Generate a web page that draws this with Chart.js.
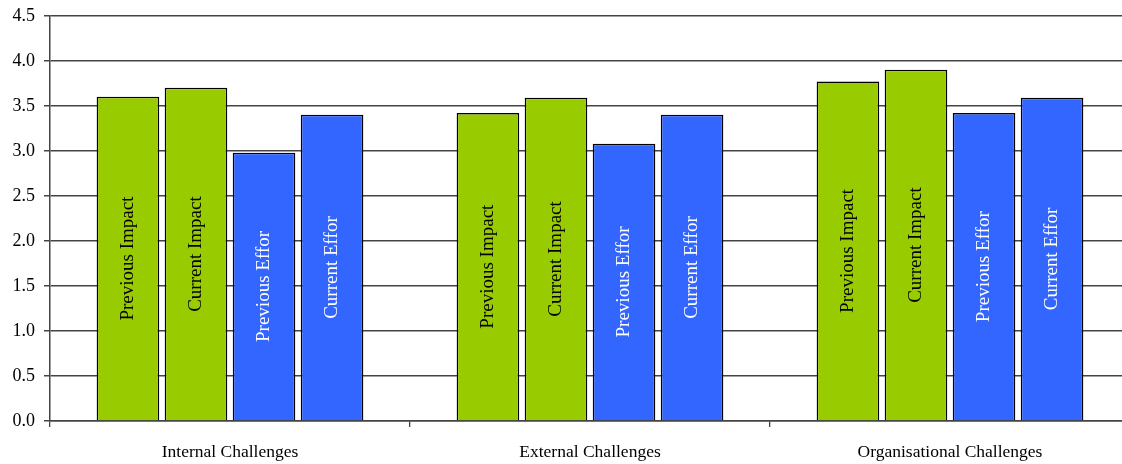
<!DOCTYPE html>
<html>
<head>
<meta charset="utf-8">
<script src="https://cdn.jsdelivr.net/npm/chart.js@4"></script>
<style>
html,body{margin:0;padding:0;background:#fff;overflow:hidden;width:1122px;height:464px;}
canvas{display:block;margin-top:-4px;}
</style>
</head>
<body>
<canvas id="c" width="1132" height="468"></canvas>
<script>
const categories = ["Internal Challenges", "External Challenges", "Organisational Challenges"];
const seriesNames = ["Previous Impact", "Current Impact", "Previous Effort", "Current Effort"];
const barLabels = ["Previous Impact", "Current Impact", "Previous Effor", "Current Effor"];
const previousImpact = [3.60, 3.42, 3.77];
const currentImpact = [3.70, 3.59, 3.90];
const previousEffort = [2.98, 3.08, 3.42];
const currentEffort = [3.40, 3.40, 3.59];
const yTicks = [0, 0.5, 1, 1.5, 2, 2.5, 3, 3.5, 4, 4.5];

const GREEN = '#99CC00', BLUE = '#3366FF';
const fills = [GREEN, GREEN, BLUE, BLUE];
const textColors = ['#000', '#000', '#fff', '#fff'];
const values = [previousImpact, currentImpact, previousEffort, currentEffort];
const SERIF = '"Liberation Serif", "Times New Roman", serif';

const barTextPlugin = {
  id: 'barText',
  afterDatasetsDraw(chart) {
    const ctx = chart.ctx;
    chart.data.datasets.forEach((ds, i) => {
      const meta = chart.getDatasetMeta(i);
      meta.data.forEach(bar => {
        const p = bar.getProps(['x', 'y', 'base'], true);
        const cy = (p.y + p.base) / 2;
        ctx.save();
        ctx.translate(p.x, cy);
        ctx.rotate(-Math.PI / 2);
        ctx.font = '19px ' + SERIF;
        ctx.fillStyle = textColors[i];
        ctx.textAlign = 'center';
        ctx.textBaseline = 'middle';
        ctx.fillText(barLabels[i], 0, 0);
        ctx.restore();
      });
    });
  }
};

new Chart(document.getElementById('c'), {
  type: 'bar',
  data: {
    labels: categories,
    datasets: seriesNames.map((n, i) => ({
      label: n,
      data: values[i],
      backgroundColor: fills[i],
      borderColor: '#000',
      borderWidth: 1.5,
      categoryPercentage: 0.756,
      barPercentage: 0.92
    }))
  },
  options: {
    responsive: false,
    animation: false,
    layout: { padding: { top: 10, right: 2, bottom: 0, left: 0 } },
    plugins: { legend: { display: false }, tooltip: { enabled: false } },
    scales: {
      x: {
        afterFit(scale) { scale.height = 43; },
        grid: { offset: true, drawOnChartArea: false, drawTicks: true, tickLength: 6, color: '#444', lineWidth: 1.3 },
        border: { display: true, color: '#444', width: 1.5 },
        ticks: {
          color: '#000',
          padding: 15,
          maxRotation: 0,
          font: { family: SERIF, size: 17.5 }
        }
      },
      y: {
        min: 0,
        max: 4.5,
        afterFit(scale) { scale.width = 50; },
        afterBuildTicks(scale) { scale.ticks = yTicks.map(v => ({ value: v })); },
        grid: { color: '#444', lineWidth: 1.5, drawTicks: true, tickLength: 6 },
        border: { display: true, color: '#444', width: 1.5 },
        ticks: {
          color: '#000',
          padding: 9,
          font: { family: SERIF, size: 18 },
          callback: v => Number(v).toFixed(1)
        }
      }
    }
  },
  plugins: [barTextPlugin]
});
</script>
</body>
</html>
